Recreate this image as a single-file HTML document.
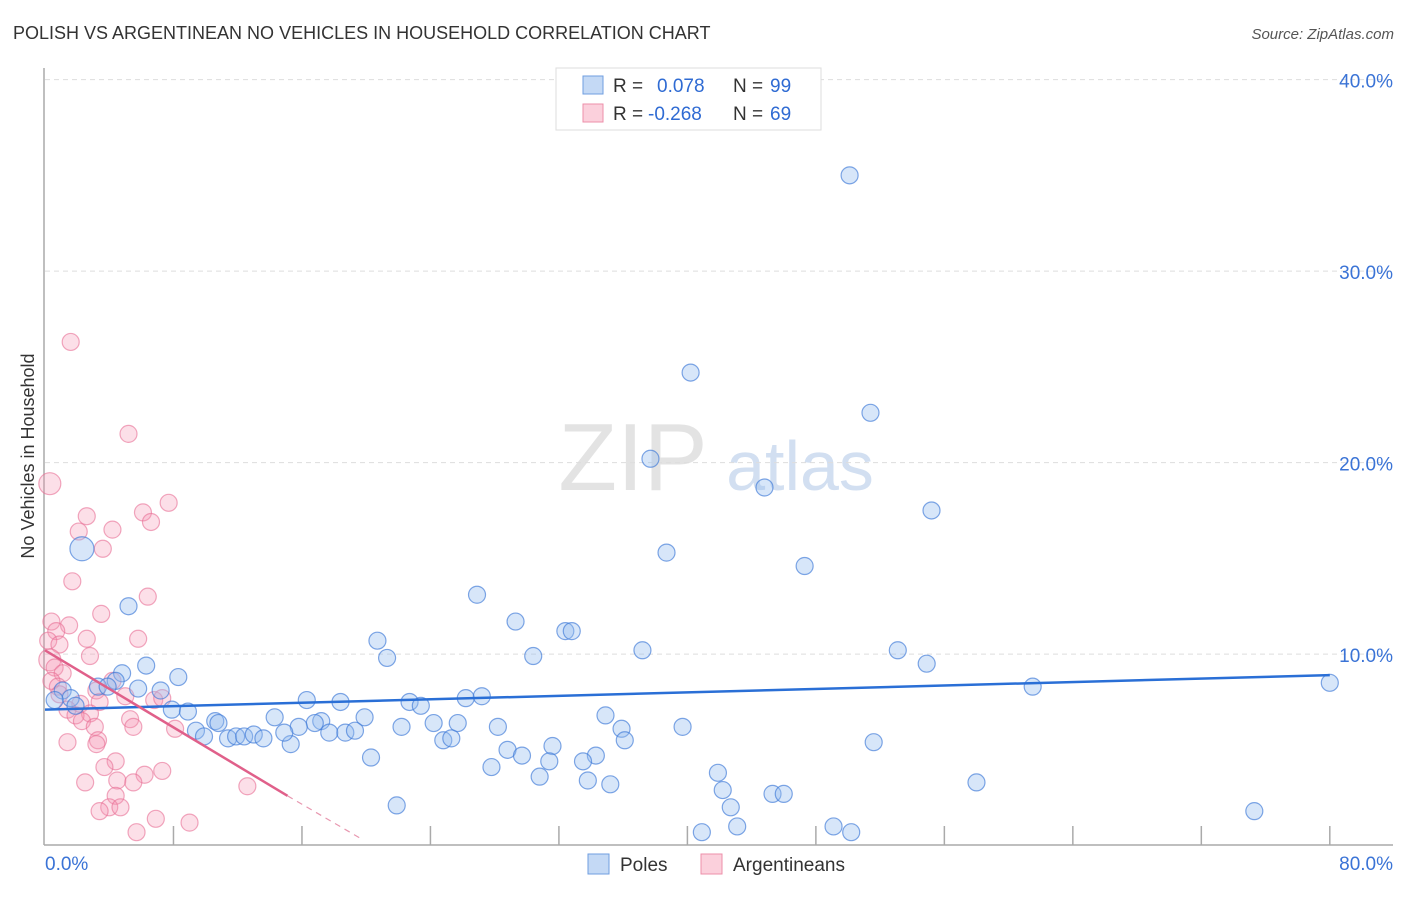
<!DOCTYPE html>
<html><head><meta charset="utf-8">
<style>
body{margin:0;background:#fff;font-family:"Liberation Sans",sans-serif;}
svg text{font-family:"Liberation Sans",sans-serif;}
</style></head>
<body>
<svg id="chart" width="1406" height="892" viewBox="0 0 1406 892" xmlns="http://www.w3.org/2000/svg">
<text x="13" y="39" font-size="18" fill="#333">POLISH VS ARGENTINEAN NO VEHICLES IN HOUSEHOLD CORRELATION CHART</text>
<text x="1394" y="39" font-size="15" fill="#555" font-style="italic" text-anchor="end">Source: ZipAtlas.com</text>
<text transform="translate(34,456) rotate(-90)" font-size="18" fill="#333" text-anchor="middle">No Vehicles in Household</text>
<g>
<text x="633" y="490" font-size="96" fill="#ddd" font-family="Liberation Serif" text-anchor="middle" opacity="0.8">ZIP</text>
<text x="800" y="490" font-size="70" fill="#c8d8ee" text-anchor="middle" opacity="0.8">atlas</text>
</g>
<g id="grid"></g>
<g id="axes"></g>
<g id="points"></g>
<g id="trends"></g>
<g>
<rect x="556" y="68" width="265" height="62" fill="#fff" stroke="#ddd"/>
<rect x="583" y="76" width="20" height="18" fill="#c4d9f5" stroke="#6f9ee0"/>
<text x="613" y="92" font-size="19" fill="#333">R =</text>
<text x="657" y="92" font-size="19" fill="#2f6bd3">0.078</text>
<text x="733" y="92" font-size="19" fill="#333">N =</text>
<text x="770" y="92" font-size="19" fill="#2f6bd3">99</text>
<rect x="583" y="104" width="20" height="18" fill="#fbd0dc" stroke="#ec8faa"/>
<text x="613" y="120" font-size="19" fill="#333">R =</text>
<text x="648" y="120" font-size="19" fill="#2f6bd3">-0.268</text>
<text x="733" y="120" font-size="19" fill="#333">N =</text>
<text x="770" y="120" font-size="19" fill="#2f6bd3">69</text>
</g>
<g>
<rect x="588" y="854" width="21" height="20" fill="#c4d9f5" stroke="#6f9ee0"/>
<text x="620" y="871" font-size="19" fill="#333">Poles</text>
<rect x="701" y="854" width="21" height="20" fill="#fbd0dc" stroke="#ec8faa"/>
<text x="733" y="871" font-size="19" fill="#333">Argentineans</text>
</g>
</svg>
<script>
const yTicks=[10,20,30,40];
const yTickLabels=["10.0%","20.0%","30.0%","40.0%"];
const xTicks=[0,8,16,24,32,40,48,56,64,72,80];
const xEndLabels=["0.0%","80.0%"];
const bluePx=[50.1,40.2,51.4,37.7,44.8,55.2,2.3,38.7,47.3,26.9,5.2,29.3,32.4,32.8,20.7,37.2,53.1,30.4,21.3,54.9,6.3,4.8,8.3,61.5,80.0,4.4,3.3,1.1,3.9,5.8,7.2,1.6,0.6,1.9,16.3,18.4,22.7,23.4,26.2,27.2,7.9,8.9,34.9,19.9,10.6,10.8,14.3,17.2,16.8,15.8,22.2,24.2,25.7,28.2,39.7,35.9,9.4,9.9,11.4,11.9,12.4,13.0,13.6,15.3,14.9,17.7,18.7,19.3,24.8,25.3,36.1,51.6,31.6,28.8,34.3,20.3,29.7,31.4,33.5,27.8,30.8,41.9,33.8,35.2,58.0,42.2,45.3,46.0,21.9,42.7,75.3,43.1,49.1,50.2,40.9];
const blueY=[35.0,24.7,22.6,20.2,18.7,17.5,15.5,15.3,14.6,13.1,12.5,11.7,11.2,11.2,10.7,10.2,10.2,9.9,9.8,9.5,9.4,9.0,8.8,8.3,8.5,8.6,8.3,8.1,8.3,8.2,8.1,7.7,7.6,7.3,7.6,7.5,7.5,7.3,7.7,7.8,7.1,7.0,6.8,6.7,6.5,6.4,6.7,6.5,6.4,6.2,6.2,6.4,6.4,6.2,6.2,6.1,6.0,5.7,5.6,5.7,5.7,5.8,5.6,5.3,5.9,5.9,5.9,6.0,5.5,5.6,5.5,5.4,5.2,5.0,4.7,4.6,4.7,4.4,4.4,4.1,3.6,3.8,3.4,3.2,3.3,2.9,2.7,2.7,2.1,2.0,1.8,1.0,1.0,0.7,0.7];
const blueBig=[6];
const pinkX=[1.6,5.2,0.3,7.7,2.6,6.1,6.6,2.1,4.2,3.6,1.7,6.4,3.5,0.4,1.5,0.7,5.8,2.6,0.2,0.9,2.8,0.3,0.6,1.1,0.4,0.8,0.9,3.2,4.2,5.0,2.2,3.4,6.8,7.3,1.4,2.8,1.9,5.3,2.3,5.5,3.1,3.3,3.2,1.4,8.1,4.4,3.7,6.2,7.3,2.5,4.5,5.5,12.6,4.4,4.0,3.4,4.7,6.9,9.0,5.7];
const pinkY=[26.3,21.5,18.9,17.9,17.2,17.4,16.9,16.4,16.5,15.5,13.8,13.0,12.1,11.7,11.5,11.2,10.8,10.8,10.7,10.5,9.9,9.7,9.3,9.0,8.6,8.3,7.9,8.1,8.6,7.8,7.4,7.5,7.6,7.7,7.1,6.9,6.8,6.6,6.5,6.2,6.2,5.5,5.3,5.4,6.1,4.4,4.1,3.7,3.9,3.3,3.4,3.3,3.1,2.6,2.0,1.8,2.0,1.4,1.2,0.7];
const pinkBig=[2,21];
const blueTrendX=[0,80], blueTrendY=[7.1,8.9];
const pinkTrendX=[0,15.1], pinkTrendY=[10.2,2.6];
const pinkDashX=[15.1,19.6], pinkDashY=[2.6,0.4];

const NS="http://www.w3.org/2000/svg";
const X=v=>45+v*16.06;
const Y=v=>845.6-v*19.15;
function mk(tag,attrs,parent){const e=document.createElementNS(NS,tag);for(const k in attrs)e.setAttribute(k,attrs[k]);document.getElementById(parent).appendChild(e);return e;}
yTicks.forEach((t,i)=>{
  const g=mk('line',{x1:45,x2:1393,y1:Y(t),y2:Y(t),stroke:'#ddd','stroke-dasharray':'5,4'},'grid');
  
  
  const l=mk('text',{x:1393,y:Y(t)+8,'font-size':19,fill:'#3a73d6','text-anchor':'end'},'grid');
  
  
  l.textContent=yTickLabels[i];
});
const ax=mk('line',{x1:44,x2:44,y1:68,y2:845,stroke:'#aaa','stroke-width':1.5},'axes');


const bx=mk('line',{x1:44,x2:1393,y1:845,y2:845,stroke:'#aaa','stroke-width':1.5},'axes');


xTicks.forEach(t=>{
  if(t===0)return;
  const k=mk('line',{x1:X(t),x2:X(t),y1:826,y2:845,stroke:'#aaa','stroke-width':1.5},'axes');
  
  
});
const l0=mk('text',{x:45,y:870,'font-size':19,fill:'#3a73d6'},'axes');


l0.textContent=xEndLabels[0];
const l1=mk('text',{x:1393,y:870,'font-size':19,fill:'#3a73d6','text-anchor':'end'},'axes');


l1.textContent=xEndLabels[1];
pinkX.forEach((v,i)=>{
  const c=mk('circle',{cx:X(v),cy:Y(pinkY[i]),r:pinkBig.includes(i)?11:8.5,fill:'rgba(244,150,178,0.3)',stroke:'rgba(232,110,148,0.6)','stroke-width':1.2},'points');
  
  
});
bluePx.forEach((v,i)=>{
  const c=mk('circle',{cx:X(v),cy:Y(blueY[i]),r:blueBig.includes(i)?12:8.5,fill:'rgba(150,190,240,0.38)',stroke:'rgba(60,120,215,0.65)','stroke-width':1.2},'points');
  
  
});
const bt=mk('line',{x1:X(blueTrendX[0]),y1:Y(blueTrendY[0]),x2:X(blueTrendX[1]),y2:Y(blueTrendY[1]),stroke:'#2a6fd6','stroke-width':2.5},'trends');


const pt=mk('line',{x1:X(pinkTrendX[0]),y1:Y(pinkTrendY[0]),x2:X(pinkTrendX[1]),y2:Y(pinkTrendY[1]),stroke:'#e0608a','stroke-width':2.5},'trends');


const pd=mk('line',{x1:X(pinkDashX[0]),y1:Y(pinkDashY[0]),x2:X(pinkDashX[1]),y2:Y(pinkDashY[1]),stroke:'#e898b0','stroke-width':1.2,'stroke-dasharray':'6,5'},'trends');


</script>
</body></html>
